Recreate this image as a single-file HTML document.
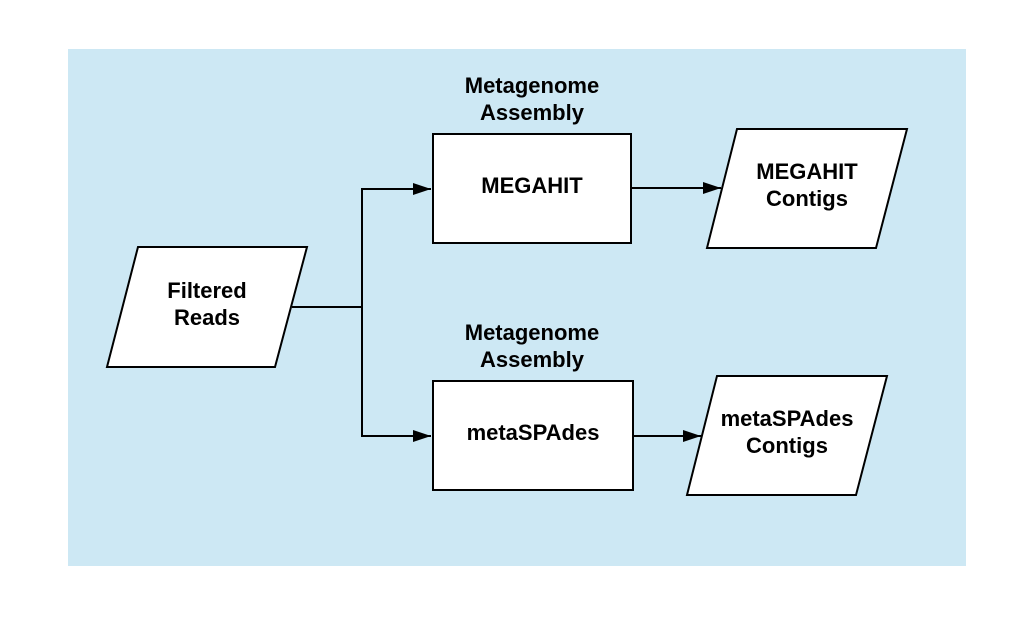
<!DOCTYPE html>
<html><head><style>body{margin:0;background:#fff}</style></head><body>
<svg width="1034" height="616" xmlns="http://www.w3.org/2000/svg" font-family="Liberation Sans, sans-serif" font-weight="bold" font-size="22" text-anchor="middle">
<defs>
<marker id="b" markerWidth="18" markerHeight="12" refX="18" refY="6" orient="auto" markerUnits="userSpaceOnUse"><path d="M0,0 L18,6 L0,12z" fill="#000"/></marker></defs>
<rect x="68" y="49" width="898" height="517" fill="#cde8f4"/>
<g stroke="#000" stroke-width="2" fill="#fff">
<polygon points="138,247 307,247 275,367 107,367"/>
<rect x="433" y="134" width="198" height="109"/>
<rect x="433" y="381" width="200" height="109"/>
<polygon points="737,129 907,129 876,248 707,248"/>
<polygon points="717,376 887,376 856,495 687,495"/>
</g>
<g stroke="#000" stroke-width="2" fill="none">
<polyline points="292,307 362,307"/>
<polyline points="362,436 362,189 431,189" marker-end="url(#b)"/>
<polyline points="362,307 362,436 431,436" marker-end="url(#b)"/>
<line x1="631" y1="188" x2="721" y2="188" marker-end="url(#b)"/>
<line x1="633" y1="436" x2="701" y2="436" marker-end="url(#b)"/>
</g>
<text x="207" y="298">Filtered</text><text x="207" y="325">Reads</text>
<text x="532" y="93">Metagenome</text><text x="532" y="120">Assembly</text>
<text x="532" y="340">Metagenome</text><text x="532" y="367">Assembly</text>
<text x="532" y="193">MEGAHIT</text>
<text x="533" y="440">metaSPAdes</text>
<text x="807" y="179">MEGAHIT</text><text x="807" y="206">Contigs</text>
<text x="787" y="426">metaSPAdes</text><text x="787" y="453">Contigs</text>
</svg>
</body></html>
